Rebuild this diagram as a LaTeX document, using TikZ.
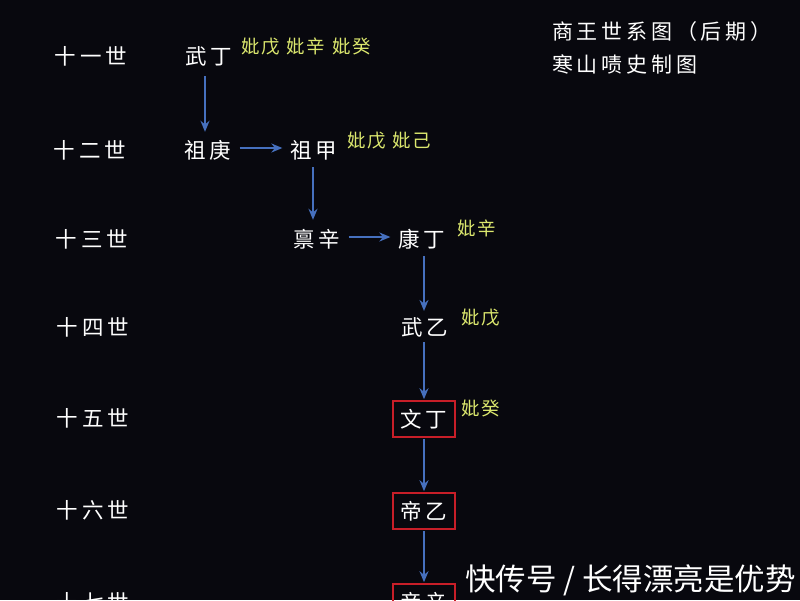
\documentclass[tikz,border=0pt]{standalone}
\usepackage{fontspec}
\usetikzlibrary{arrows.meta}
\newfontfamily\cjk[LetterSpace=18]{Noto Sans CJK SC}
\newfontfamily\cjkwife[LetterSpace=8]{Noto Sans CJK SC}
\newfontfamily\cjkplain{Noto Sans CJK SC}
\definecolor{bg}{RGB}{8,8,14}
\definecolor{arrowblue}{RGB}{70,112,190}
\definecolor{boxred}{RGB}{200,30,40}
\definecolor{consort}{RGB}{220,232,110}
\tikzset{
  gen/.style={text=white, font=\cjk\fontsize{21.5}{21.5}\selectfont, inner sep=0pt},
  king/.style={text=white, font=\cjk\fontsize{21.5}{21.5}\selectfont, inner sep=0pt},
  boxking/.style={king, draw=boxred, line width=1.6pt, minimum width=62pt, minimum height=36pt},
  wife/.style={text=consort, font=\cjkwife\fontsize{18.5}{18.5}\selectfont, inner sep=0pt, anchor=west},
  titletext/.style={text=white, font=\cjk\fontsize{21}{21}\selectfont, inner sep=0pt, anchor=west},
  watermark/.style={text=white, font=\cjkplain\fontsize{30.5}{30.5}\selectfont, inner sep=0pt, anchor=west},
  link/.style={draw=arrowblue, line width=1.8pt, -{Stealth[length=11pt,width=9pt]}}
}
\begin{document}
\begin{tikzpicture}[x=1pt,y=-1pt]
\fill[bg] (0,0) rectangle (800,600);
\useasboundingbox (0,0) rectangle (800,600);
\begin{scope}
\clip (0,0) rectangle (800,600);
% generations
\node[gen] (g11) at (91,56) {十一世};
\node[gen] (g12) at (90,150) {十二世};
\node[gen] (g13) at (92,239) {十三世};
\node[gen] (g14) at (93,327) {十四世};
\node[gen] (g15) at (93,418) {十五世};
\node[gen] (g16) at (93,510) {十六世};
\node[gen] (g17) at (93,602) {十七世};
% kings
\node[king] (wuding) at (209,56) {武丁};
\node[king] (zugeng) at (208,150) {祖庚};
\node[king] (zujia) at (314,150) {祖甲};
\node[king] (linxin) at (317,239) {禀辛};
\node[king] (kangding) at (422,239) {康丁};
\node[king] (wuyi) at (425,327) {武乙};
\node[boxking] (wending) at (424,419) {文丁};
\node[boxking] (diyi) at (424,511) {帝乙};
\node[boxking] (dixin) at (424,602) {帝辛};
% consorts
\node[wife] (w1) at (241,47) {妣戊\hspace{7pt}妣辛\hspace{7pt}妣癸};
\node[wife] (w2) at (347,141) {妣戊\hspace{7pt}妣己};
\node[wife] (w3) at (457,228) {妣辛};
\node[wife] (w4) at (461,318) {妣戊};
\node[wife] (w5) at (461,408) {妣癸};
% title
\node[titletext] (t1) at (552,32) {商王世系图（后期）};
\node[titletext] (t2) at (552,64) {寒山啧史制图};
% watermark
\node[watermark] (wm) at (465,580) {快传号 / 长得漂亮是优势};
% connectors
\draw[link, shorten <=10pt, shorten >=8pt] (wuding.south -| 205,0) -- (zugeng.north -| 205,0);
\draw[link, shorten <=8pt, shorten >=8pt] (zugeng.east |- 0,148) -- (zujia.west |- 0,148);
\draw[link, shorten <=7pt, shorten >=9pt] (zujia.south -| 313,0) -- (linxin.north -| 313,0);
\draw[link, shorten <=8pt, shorten >=8pt] (linxin.east |- 0,237) -- (kangding.west |- 0,237);
\draw[link, shorten <=7pt, shorten >=6pt] (kangding.south -| 424,0) -- (wuyi.north -| 424,0);
\draw[link, shorten <=5pt, shorten >=1pt] (wuyi.south -| 424,0) -- (wending.north -| 424,0);
\draw[link, shorten <=1pt, shorten >=1pt] (wending.south) -- (diyi.north);
\draw[link, shorten <=1pt, shorten >=1pt] (diyi.south) -- (dixin.north);
\end{scope}
\end{tikzpicture}
\end{document}
